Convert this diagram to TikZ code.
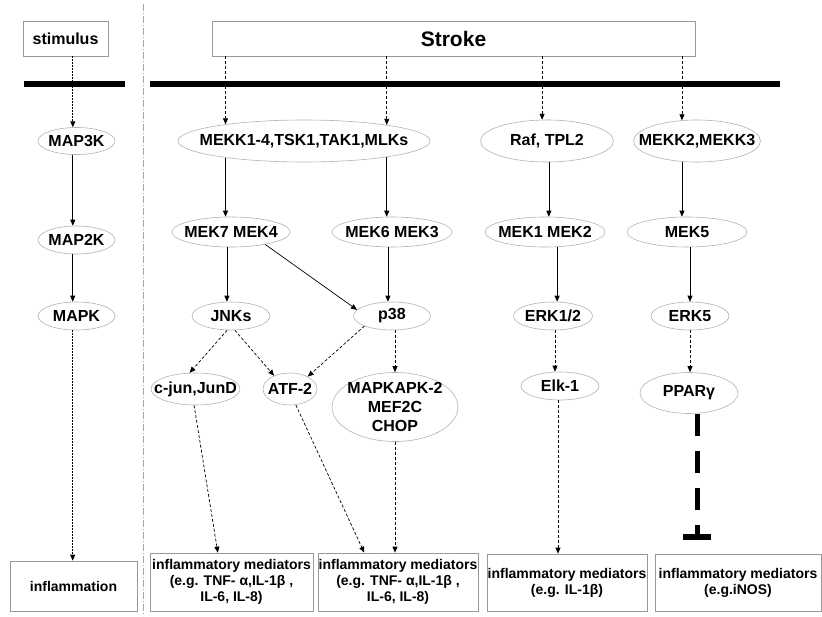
\documentclass[tikz,border=0pt]{standalone}
\usepackage{fontspec}
\setmainfont{Liberation Sans}
\usetikzlibrary{shapes.geometric,arrows.meta}
\begin{document}
\begin{tikzpicture}[x=1pt, y=-1pt, every node/.append style={text=black, font=\bfseries\fontsize{16}{19}\selectfont},
	oval/.style={ellipse, draw=gray!60, line width=0.6pt, inner sep=0pt, label={[align=center]center:{#1}}},
	box/.style={rectangle, draw=gray!80, line width=0.7pt, inner sep=0pt, align=center},
	small/.style={font=\bfseries\fontsize{14}{16}\selectfont},
	arr/.style={-{Triangle[length=6pt,width=5pt]}, line width=0.7pt},
	darr/.style={arr, dash pattern=on 3pt off 2pt},
	fine/.style={arr, dash pattern=on 1.5pt off 1.5pt},
	inhib/.style={-{Bar[width=28pt,line width=6pt]}, line width=5pt, dash pattern=on 22pt off 15pt}]
	\useasboundingbox (0,0) rectangle (822,616);
	
	\node[box, minimum width=85pt, minimum height=35pt] (stimulus) at (65.5,38.5) {stimulus};
	\node[box, minimum width=483pt, minimum height=35pt, font=\bfseries\fontsize{21}{24}\selectfont] (stroke) at (453.5,38.5) {Stroke};
	
	\node[oval=MAP3K, minimum width=77pt, minimum height=27pt] (map3k) at (76.5,141) {};
	\node[oval=MAP2K, minimum width=77pt, minimum height=28pt] (map2k) at (76.5,240) {};
	\node[oval=MAPK, minimum width=77pt, minimum height=28pt] (mapk) at (76.5,316) {};
	\node[box, small, minimum width=127pt, minimum height=50pt] (inflam) at (73.5,586) {inflammation};
	
	\node[oval={MEKK1-4,TSK1,TAK1,MLKs}, minimum width=252pt, minimum height=42pt] (mekk) at (304,141) {};
	\node[oval={Raf, TPL2}, minimum width=133pt, minimum height=42pt] (raf) at (547,141) {};
	\node[oval={MEKK2,MEKK3}, minimum width=127pt, minimum height=42pt] (mekk23) at (697,141) {};
	
	\node[oval={MEK7 MEK4}, minimum width=118pt, minimum height=30pt] (mek74) at (231,232) {};
	\node[oval={MEK6 MEK3}, minimum width=120pt, minimum height=30pt] (mek63) at (392,232) {};
	\node[oval={MEK1 MEK2}, minimum width=120pt, minimum height=30pt] (mek12) at (545,232) {};
	\node[oval=MEK5, minimum width=120pt, minimum height=30pt] (mek5) at (687,232) {};
	
	\node[oval=JNKs, minimum width=78pt, minimum height=28pt] (jnks) at (231,316) {};
	\node[oval=p38, minimum width=77pt, minimum height=28pt] (p38) at (392,316) {};
	\node[oval={ERK1/2}, minimum width=79pt, minimum height=28pt] (erk12) at (553,316) {};
	\node[oval=ERK5, minimum width=78pt, minimum height=28pt] (erk5) at (690,316) {};
	
	\node[oval={c-jun,JunD}, minimum width=89pt, minimum height=32pt] (cjun) at (195.5,389) {};
	\node[oval=ATF-2, minimum width=54pt, minimum height=32pt] (atf2) at (290,389) {};
	\node[oval={MAPKAPK-2\\MEF2C\\CHOP}, minimum width=126pt, minimum height=69pt] (mapkapk) at (395,407) {};
	\node[oval=Elk-1, minimum width=78pt, minimum height=28pt] (elk1) at (560,386) {};
	\node[oval=PPARγ, minimum width=98pt, minimum height=41pt] (ppar) at (689,393) {};
	
	\node[box, small, minimum width=163pt, minimum height=58pt] (med1) at (231.5,582) {inflammatory mediators\\(e.g. TNF- α,IL-1β ,\\IL-6, IL-8)};
	\node[box, small, minimum width=160pt, minimum height=58pt] (med2) at (398,582) {inflammatory mediators\\(e.g. TNF- α,IL-1β ,\\IL-6, IL-8)};
	\node[box, small, minimum width=160pt, minimum height=57pt] (med3) at (567,582.5) {inflammatory mediators\\(e.g. IL-1β)};
	\node[box, small, minimum width=166pt, minimum height=57pt] (med4) at (738,582.5) {inflammatory mediators\\(e.g.iNOS)};
	
	\draw[gray!70, line width=0.8pt, dash pattern=on 7pt off 2pt on 1pt off 2pt] (143,4) -- (143,616);
	
	\draw[fine] (stimulus.south -| map3k.105) -- (map3k.105);
	\draw[arr] (map3k.255) -- (map3k.255 |- map2k.north);
	\draw[arr] (map2k.255) -- (map2k.255 |- mapk.north);
	\draw[fine] (mapk.255) -- (mapk.255 |- inflam.north);
	
	\draw[darr] (stroke.south -| mekk.168) -- (mekk.168);
	\draw[darr] (stroke.south -| mekk.11) -- (mekk.11);
	\draw[darr] (stroke.south -| raf.103) -- (raf.103);
	\draw[darr] (stroke.south -| mekk23.126) -- (mekk23.126);
	
	\draw[line width=6pt] (24,84) -- (125,84);
	\draw[line width=6pt] (150,84) -- (780,84);
	
	\draw[arr] (mekk.192) -- (mekk.192 |- mek74.north);
	\draw[arr] (mekk.349) -- (mekk.349 |- mek63.north);
	\draw[arr] (raf.275) -- (raf.275 |- mek12.north);
	\draw[arr] (mekk23.234) -- (mekk23.234 |- mek5.north);
	
	\draw[arr] (mek74.255) -- (mek74.255 |- jnks.north);
	\draw[arr] (mek74.340) -- (p38.170);
	\draw[arr] (mek63.255) -- (mek63.255 |- p38.north);
	\draw[arr] (mek12.309) -- (mek12.309 |- erk12.north);
	\draw[arr] (mek5.south -| erk5) -- (erk5);
	
	\draw[darr] (jnks.255) -- (cjun.110);
	\draw[darr] (jnks.285) -- (atf2.140);
	\draw[darr] (p38.200) -- (atf2.35);
	\draw[darr] (p38.south -| mapkapk) -- (mapkapk);
	\draw[darr] (erk12.278) -- (erk12.278 |- elk1.north);
	\draw[darr] (erk5) -- (erk5 |- ppar.north);
	
	\draw[darr] (cjun.265) -- (med1.115);
	\draw[darr] (atf2.290) -- (med2.139);
	\draw[darr] (mapkapk) -- (mapkapk |- med2.north);
	\draw[darr] (elk1.262) -- (elk1.262 |- med3.north);
	\draw[inhib] (ppar.292) -- ([yshift=14pt]ppar.292 |- med4.north);
\end{tikzpicture}
\end{document}
